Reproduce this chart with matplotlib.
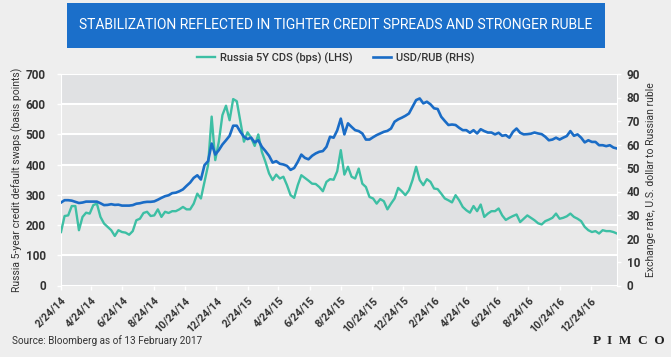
import matplotlib
matplotlib.use("Agg")
import matplotlib.pyplot as plt
from matplotlib.patches import Rectangle
import pandas as pd

# Data (weekly)
start_date = "2014-02-24"
cds_bps = [177, 230, 232, 263, 263, 183, 227, 241, 238, 266,
           271, 227, 205, 194, 183, 164, 183, 177, 175, 168,
           180, 216, 221, 240, 244, 230, 232, 252, 227, 244,
           240, 246, 246, 252, 260, 252, 252, 271, 304, 288,
           343, 398, 559, 415, 476, 564, 595, 547, 617, 610,
           542, 476, 507, 489, 462, 500, 442, 409, 371, 349,
           367, 354, 360, 332, 299, 290, 332, 365, 356, 347,
           337, 336, 326, 312, 343, 352, 350, 378, 448, 367,
           393, 360, 354, 387, 337, 326, 293, 288, 271, 286,
           279, 252, 271, 288, 323, 312, 299, 315, 349, 393,
           349, 332, 352, 343, 321, 319, 304, 288, 282, 275,
           299, 282, 260, 249, 241, 263, 246, 268, 227, 238,
           246, 246, 255, 232, 217, 224, 230, 235, 210, 221,
           232, 224, 216, 206, 202, 213, 218, 224, 238, 221,
           224, 229, 238, 227, 221, 213, 194, 183, 177, 180,
           172, 183, 180, 180, 177, 172]
usd_rub = [35.3, 36.3, 36.3, 36.1, 35.6, 35.1, 35.3, 35.7, 35.7, 35.7,
           35.7, 35.0, 34.2, 34.3, 34.6, 34.3, 34.4, 34.0, 34.0, 34.0,
           34.2, 34.8, 35.0, 35.4, 35.6, 35.6, 35.8, 36.5, 37.3, 38.0,
           38.4, 39.3, 39.5, 40.1, 40.9, 42.4, 43.8, 45.8, 46.9, 45.1,
           51.2, 52.9, 60.4, 55.7, 57.6, 60.0, 61.8, 63.7, 68.0, 68.0,
           65.4, 63.3, 62.3, 62.9, 60.9, 61.8, 59.0, 57.2, 55.2, 52.3,
           52.9, 51.8, 51.5, 50.9, 49.2, 50.0, 52.6, 55.7, 54.3, 53.7,
           55.2, 56.2, 56.9, 57.2, 59.0, 63.3, 62.9, 66.0, 71.0, 64.3,
           69.0, 67.5, 66.1, 65.7, 64.7, 62.1, 62.1, 63.1, 64.0, 64.7,
           65.4, 65.8, 66.8, 69.7, 70.7, 71.4, 72.2, 73.2, 76.1, 78.9,
           79.6, 77.5, 78.2, 77.1, 75.4, 75.1, 71.8, 70.0, 68.3, 68.5,
           68.3, 67.1, 66.1, 66.1, 65.0, 66.1, 64.7, 66.5, 65.7, 65.1,
           65.1, 64.3, 65.0, 63.7, 64.0, 62.9, 65.4, 66.8, 65.0, 64.3,
           64.4, 64.6, 65.1, 64.7, 64.4, 63.3, 61.8, 62.1, 62.9, 62.1,
           62.9, 63.6, 65.7, 63.7, 64.3, 62.9, 60.9, 61.8, 61.1, 61.1,
           59.7, 59.7, 59.3, 59.7, 58.7, 58.3]
tick_dates = ["2014-02-24", "2014-04-24", "2014-06-24", "2014-08-24", "2014-10-24", "2014-12-24",
              "2015-02-24", "2015-04-24", "2015-06-24", "2015-08-24", "2015-10-24", "2015-12-24",
              "2016-02-24", "2016-04-24", "2016-06-24", "2016-08-24", "2016-10-24", "2016-12-24"]
tick_labels = ["2/24/14", "4/24/14", "6/24/14", "8/24/14", "10/24/14", "12/24/14",
               "2/24/15", "4/24/15", "6/24/15", "8/24/15", "10/24/15", "12/24/15",
               "2/24/16", "4/24/16", "6/24/16", "8/24/16", "10/24/16", "12/24/16"]

dates = pd.date_range(start_date, periods=len(cds_bps), freq="7D")

# colours
bg = "#eeeeee"
band_light = "#e9e9e9"
band_dark = "#e0e1e3"
teal = "#3dbfa4"
blue = "#1a6cc6"
txt = "#333333"

plt.rcParams['font.family'] = ['Roboto', 'DejaVu Sans']

fig = plt.figure(figsize=(6.71, 3.57), dpi=100, facecolor=bg)
ax = fig.add_axes([61/671, 1-285.5/357, 556/671, 211.5/357])
ax.set_facecolor(band_light)
for lo in [0, 200, 400, 600]:
    ax.axhspan(lo, lo + 100, color=band_dark, lw=0, zorder=0)
ax.set_ylim(0, 700)
ax.set_yticks(range(0, 701, 100))
ax.grid(axis='y', color='white', lw=1.5, zorder=1)
ax.set_axisbelow(True)

l1, = ax.plot(dates, cds_bps, color=teal, lw=1.7, zorder=3, label="Russia 5Y CDS (bps) (LHS)")

ax2 = ax.twinx()
ax2.set_ylim(0, 90)
ax2.set_yticks(range(0, 91, 10))
l2, = ax2.plot(dates, usd_rub, color=blue, lw=1.9, zorder=3, label="USD/RUB (RHS)")

ax.set_xlim(dates[0], dates[-1])
ax.set_xticks(pd.to_datetime(tick_dates))
ax.set_xticklabels(tick_labels, rotation=45, ha='right', rotation_mode='anchor')

for a in (ax, ax2):
    for s in a.spines.values():
        s.set_visible(False)
    a.tick_params(colors='white', labelcolor=txt, labelsize=8, length=3, width=1)
ax.spines['left'].set_visible(True)
ax.spines['left'].set_color('white')
ax2.spines['right'].set_visible(True)
ax2.spines['right'].set_color('white')
ax.tick_params(axis='y', pad=8, labelsize=8.5)
ax2.tick_params(axis='y', pad=4, labelsize=8.5)
ax.tick_params(axis='x', pad=4, labelsize=7.7)
for lab in ax.get_yticklabels() + ax2.get_yticklabels() + ax.get_xticklabels():
    lab.set_fontweight('bold')

ax.set_ylabel("Russia 5-year credit default swaps (basis points)", fontsize=7.5, color=txt, labelpad=2)
ax2.set_ylabel("Exchange rate, U.S. dollar to Russian ruble", fontsize=7.5, color=txt, labelpad=4)

# title banner
fig.patches.append(Rectangle((67/671, 1-48/357), 538/671, 45/357, transform=fig.transFigure,
                             facecolor="#1b6fca", edgecolor='none'))
fig.text(336/671, 1-25/357, "STABILIZATION REFLECTED IN TIGHTER CREDIT SPREADS AND STRONGER RUBLE",
         color='white', fontsize=10, ha='center', va='center')

fig.legend(handles=[l1, l2], loc='center', bbox_to_anchor=(336/671, 1-58/357), ncol=2,
           frameon=False, handlelength=1.6, handletextpad=0.5, columnspacing=1.8, labelcolor=txt,
           prop={'family': ['Roboto', 'DejaVu Sans'], 'weight': 'medium', 'size': 8})

fig.text(12/671, 1-341/357, "Source: Bloomberg as of 13 February 2017", fontsize=7.2, color=txt,
         va='center')
fig.text(665/671, 1-341/357, "P  I  M  C  O", fontsize=9.5, color='#222222', va='center', ha='right',
         family='Liberation Serif', fontweight='bold')

fig.savefig("out.png", dpi=100, facecolor=bg)
